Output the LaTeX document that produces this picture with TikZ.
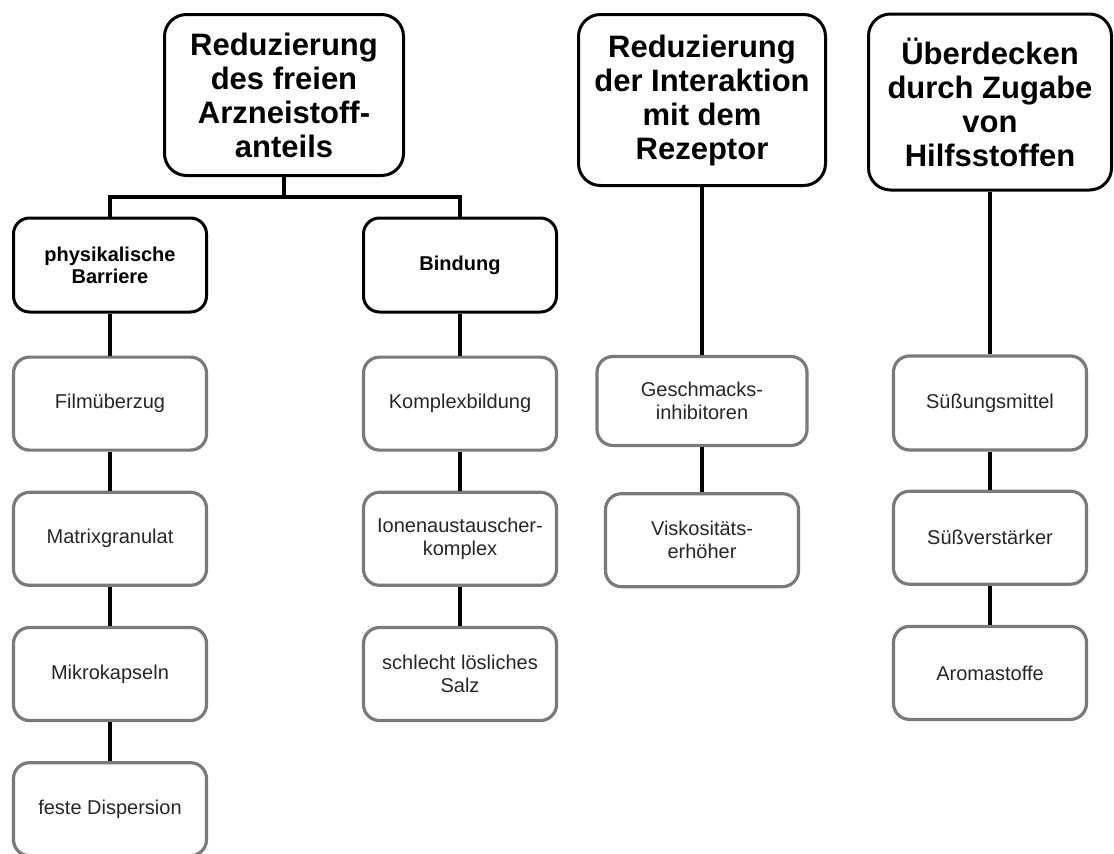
\documentclass[tikz,border=0pt]{standalone}
\usepackage{fontspec}
\setmainfont{Liberation Sans}
\usetikzlibrary{positioning}

\begin{document}
\begin{tikzpicture}[
    x=1pt, y=1pt,
    node distance=39pt,
    every node/.style={rectangle, rounded corners=16pt, align=center, inner sep=2pt},
    topbox/.style={draw=black, line width=3pt, rounded corners=22pt, font=\fontsize{31}{34}\selectfont\bfseries},
    midbox/.style={draw=black, line width=3pt, minimum width=193pt, minimum height=94pt, font=\fontsize{20}{22}\selectfont\bfseries},
    itembox/.style={draw=black!52, line width=3.2pt, minimum width=193pt, minimum height=93pt, text=black!85, font=\fontsize{20}{23}\selectfont},
    link/.style={line width=3.4pt, draw=black}
]
\useasboundingbox (0,0) rectangle (1114,-854);

% Hauptgruppen
\node[topbox, minimum width=239pt, minimum height=161pt] (red1) at (284,-95) {Reduzierung\\des freien\\Arzneistoff-\\anteils};
\node[topbox, minimum width=247pt, minimum height=171pt] (red2) at (702,-100) {Reduzierung\\der Interaktion\\mit dem\\Rezeptor};
\node[topbox, minimum width=243pt, minimum height=176pt] (over) at (990,-102) {Überdecken\\durch Zugabe\\von\\Hilfsstoffen};

% Untergruppen
\node[midbox] (phys) at (110,-265) {physikalische\\Barriere};
\node[midbox] (bind) at (460,-265) {Bindung};

% physikalische Barriere
\node[itembox, below=42pt of phys] (film) {Filmüberzug};
\node[itembox, below=of film] (matrix) {Matrixgranulat};
\node[itembox, below=of matrix] (mikro) {Mikrokapseln};
\node[itembox, below=of mikro] (disp) {feste Dispersion};

% Bindung
\node[itembox, below=42pt of bind] (komplex) {Komplexbildung};
\node[itembox, below=of komplex] (ionen) {Ionenaustauscher-\\komplex};
\node[itembox, below=of ionen] (salz) {schlecht lösliches\\Salz};

% Rezeptor
\node[itembox, minimum width=210pt, minimum height=89pt] (gesch) at (702,-401) {Geschmacks-\\inhibitoren};
\node[itembox, below=45pt of gesch] (visk) {Viskositäts-\\erhöher};

% Hilfsstoffe
\node[itembox, minimum height=94pt] (suess) at (990,-403) {Süßungsmittel};
\node[itembox, below=38pt of suess] (verst) {Süßverstärker};
\node[itembox, below=of verst] (aroma) {Aromastoffe};

\coordinate (split) at ([yshift=-20pt]red1.south);
\draw[link] (red1.south) -- (split);
\draw[link] (split) -| (phys.north);
\draw[link] (split) -| (bind.north);

\draw[link] (phys) -- (film);
\draw[link] (film) -- (matrix);
\draw[link] (matrix) -- (mikro);
\draw[link] (mikro) -- (disp);

\draw[link] (bind) -- (komplex);
\draw[link] (komplex) -- (ionen);
\draw[link] (ionen) -- (salz);

\draw[link] (red2) -- (gesch);
\draw[link] (gesch) -- (visk);

\draw[link] (over) -- (suess);
\draw[link] (suess) -- (verst);
\draw[link] (verst) -- (aroma);
\end{tikzpicture}
\end{document}
